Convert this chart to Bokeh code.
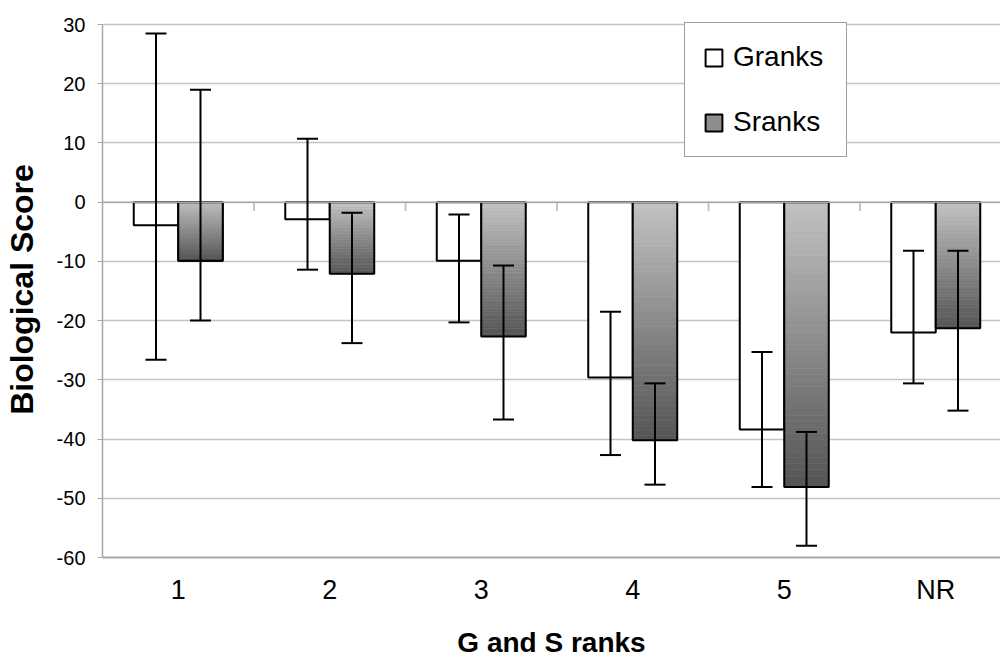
from bokeh.plotting import figure
from bokeh.models import (ColumnDataSource, FixedTicker, Legend, LegendItem,
                          Whisker, TeeHead, Span)
from bokeh.embed import file_html
from bokeh.resources import INLINE

# ---- data ----
categories = ["1", "2", "3", "4", "5", "NR"]
granks_mean = [-3.9, -2.9, -9.9, -29.6, -38.4, -22.0]
granks_upper = [28.5, 10.7, -2.1, -18.5, -25.3, -8.2]
granks_lower = [-26.6, -11.4, -20.3, -42.7, -48.1, -30.6]
sranks_mean = [-9.9, -12.1, -22.7, -40.2, -48.1, -21.3]
sranks_upper = [19.0, -1.8, -10.7, -30.6, -38.8, -8.2]
sranks_lower = [-20.0, -23.8, -36.7, -47.7, -58.0, -35.2]
y_ticks = [-60, -50, -40, -30, -20, -10, 0, 10, 20, 30]
y_tick_labels = ["-60", "-50", "-40", "-30", "-20", "-10", "0", "10", "20", "30"]
x_title = "G and S ranks"
y_title = "Biological Score"

FONT = "Liberation Sans"
BW = 0.2937          # bar width in category units
N_SLICES = 48
TOP_RGB = (194, 194, 194)
BOT_RGB = (84, 84, 84)

n = len(categories)
centers = [i + 0.5 for i in range(n)]
x_end = (1000 - 102) / 151.5
y_pad = 3 / (533 / 90)   # small headroom so the legend box is not clipped

p = figure(width=1000, height=660, output_backend="svg", toolbar_location=None,
           x_range=(0, x_end), y_range=(-60, 30 + y_pad),
           min_border_left=102, min_border_right=0, min_border_top=21, min_border_bottom=103)
p.outline_line_color = None
p.background_fill_color = "white"
p.border_fill_color = "white"

# grid
p.xgrid.grid_line_color = None
p.ygrid.ticker = FixedTicker(ticks=y_ticks)
p.ygrid.grid_line_color = "#c4c4c4"
p.ygrid.grid_line_width = 1.5

# axes
p.yaxis.ticker = FixedTicker(ticks=y_ticks)
p.yaxis.bounds = (-60, 30)
p.yaxis.major_label_overrides = {t: s for t, s in zip(y_ticks, y_tick_labels)}
p.yaxis.axis_line_color = "#a8a8a8"
p.yaxis.axis_line_width = 1.5
p.yaxis.major_tick_line_color = "#a8a8a8"
p.yaxis.major_tick_out = 5
p.yaxis.major_tick_in = 0
p.yaxis.minor_tick_line_color = None
p.yaxis.major_label_text_font = FONT
p.yaxis.major_label_text_font_size = "20px"
p.yaxis.major_label_text_color = "black"
p.yaxis.major_label_standoff = 12
p.yaxis.axis_label = y_title
p.yaxis.axis_label_text_font = FONT
p.yaxis.axis_label_text_font_size = "32px"
p.yaxis.axis_label_text_font_style = "bold"
p.yaxis.axis_label_text_color = "black"
p.yaxis.axis_label_standoff = 14

p.xaxis.ticker = FixedTicker(ticks=centers)
p.xaxis.major_label_overrides = {c: s for c, s in zip(centers, categories)}
p.xaxis.axis_line_color = "#a8a8a8"
p.xaxis.axis_line_width = 2
p.xaxis.major_tick_line_color = None
p.xaxis.minor_tick_line_color = None
p.xaxis.major_label_text_font = FONT
p.xaxis.major_label_text_font_size = "27px"
p.xaxis.major_label_text_color = "black"
p.xaxis.major_label_standoff = 11
p.xaxis.axis_label = x_title
p.xaxis.axis_label_text_font = FONT
p.xaxis.axis_label_text_font_size = "28px"
p.xaxis.axis_label_text_font_style = "bold"
p.xaxis.axis_label_text_color = "black"
p.xaxis.axis_label_standoff = 19

# category boundary ticks on the zero line
bounds = list(range(1, n))
p.segment(x0=bounds, y0=[0] * len(bounds), x1=bounds, y1=[-1.5] * len(bounds),
          line_color="#c4c4c4", line_width=2)

# Granks bars
g_src = ColumnDataSource(dict(left=[c - BW for c in centers], right=centers,
                              top=[0] * n, bottom=granks_mean))
g_r = p.quad(left="left", right="right", top="top", bottom="bottom", source=g_src,
             fill_color="white", line_color="black", line_width=2)

# legend swatch renderer for Sranks (hidden underneath the gradient of the first bar)
s_swatch = p.quad(left=centers[:1], right=[centers[0] + BW], top=[0], bottom=sranks_mean[:1],
                  fill_color="#8e8e8e", line_color="black", line_width=2)

# Sranks gradient bars
sl, sr, st, sb, sc = [], [], [], [], []
for c, v in zip(centers, sranks_mean):
    for i in range(N_SLICES):
        t = (i + 0.5) / N_SLICES
        rgb = [round(a + (b - a) * t) for a, b in zip(TOP_RGB, BOT_RGB)]
        sl.append(c)
        sr.append(c + BW)
        st.append(v * i / N_SLICES)
        sb.append(v * (i + 1) / N_SLICES)
        sc.append("#%02x%02x%02x" % tuple(rgb))
p.quad(left=sl, right=sr, top=st, bottom=sb, fill_color=sc, line_color=sc, line_width=0.6)
p.quad(left=centers, right=[c + BW for c in centers], top=[0] * n, bottom=sranks_mean,
       fill_color=None, line_color="black", line_width=2)

# zero line
p.add_layout(Span(location=0, dimension="width", line_color="#a8a8a8", line_width=1.5,
                  level="overlay"))

# error bars
g_err = ColumnDataSource(dict(x=[c - BW / 2 for c in centers], upper=granks_upper,
                              lower=granks_lower))
s_err = ColumnDataSource(dict(x=[c + BW / 2 for c in centers], upper=sranks_upper,
                              lower=sranks_lower))
for src in (g_err, s_err):
    w = Whisker(source=src, base="x", upper="upper", lower="lower", dimension="height",
                line_color="black", line_width=2, level="overlay",
                upper_head=TeeHead(size=21, line_color="black", line_width=2),
                lower_head=TeeHead(size=21, line_color="black", line_width=2))
    p.add_layout(w)

# legend
legend = Legend(items=[LegendItem(label="Granks", renderers=[g_r]),
                       LegendItem(label="Sranks", renderers=[s_swatch])],
                location=(582, 400))
legend.label_text_font = FONT
legend.label_text_font_size = "28px"
legend.label_text_color = "black"
legend.label_height = 30
legend.label_width = 95
legend.glyph_width = 21
legend.glyph_height = 21
legend.spacing = 33
legend.padding = 18
legend.margin = 0
legend.label_standoff = 9
legend.border_line_color = "#404040"
legend.border_line_width = 1
legend.background_fill_color = "white"
legend.background_fill_alpha = 1
p.add_layout(legend, "center")

open("out.html", "w").write(file_html(p, INLINE))
